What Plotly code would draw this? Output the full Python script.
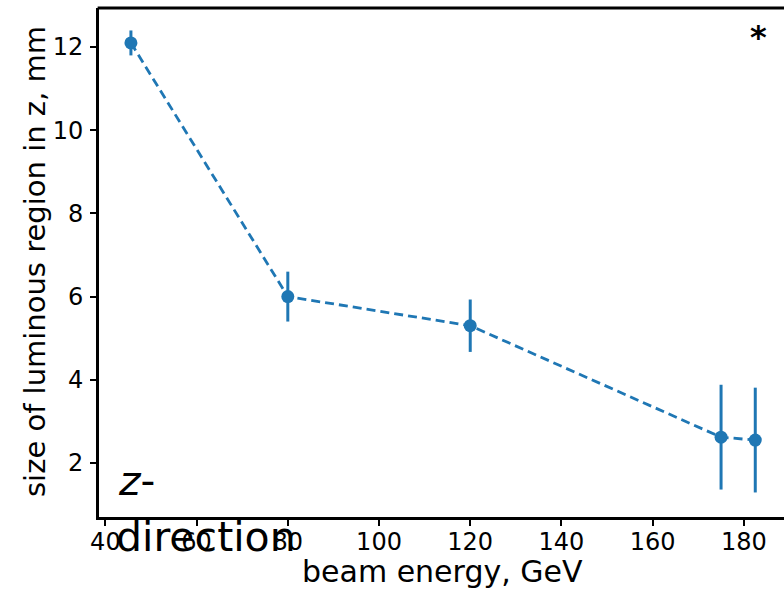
import plotly.graph_objects as go

energy = [45.6, 80, 120, 175, 182.5]
size_z = [12.1, 6.0, 5.3, 2.62, 2.55]
err_z = [0.3, 0.6, 0.63, 1.26, 1.26]
x_ticks = [40, 60, 80, 100, 120, 140, 160, 180]
y_ticks = [2, 4, 6, 8, 10, 12]

W, H = 784, 591
L, R, T, B = 99, 0, 8, 74
pw, ph = W - L - R, H - T - B

def px(x):
    return (x - L) / pw

def py(y):
    return (H - B - y) / ph

blue = "#1f77b4"
font = "DejaVu Sans"

fig = go.Figure()
fig.add_trace(go.Scatter(
    x=energy, y=size_z, mode="lines+markers",
    line=dict(color=blue, width=2.8, dash="9px,5px"),
    marker=dict(color=blue, size=13),
    error_y=dict(type="data", array=err_z, color=blue, thickness=3, width=0),
    showlegend=False,
))

tick_minor = dict(ticks="outside", ticklen=6, tickwidth=1.5, tickcolor="black", showgrid=False)

fig.update_layout(
    width=W, height=H, autosize=False,
    margin=dict(l=L, r=R, t=T, b=B, pad=0),
    paper_bgcolor="white", plot_bgcolor="white",
    font=dict(family=font, color="black"),
    xaxis=dict(range=[38.6, 188.8], tickvals=x_ticks, ticks="", ticklabelstandoff=1,
               minor=dict(tickvals=x_ticks, **tick_minor),
               showline=True, linewidth=2.8,
               linecolor="black", mirror=False, showgrid=False, zeroline=False,
               tickfont=dict(size=24, family=font)),
    yaxis=dict(range=[0.70, 12.94], tickvals=y_ticks, ticks="", ticklabelstandoff=8,
               minor=dict(tickvals=y_ticks, **tick_minor),
               showline=True, linewidth=2.8,
               linecolor="black", showgrid=False, zeroline=False,
               tickfont=dict(size=24, family=font)),
    shapes=[dict(type="line", xref="paper", yref="paper", x0=-0.002, x1=1.01, y0=1, y1=1,
                 line=dict(color="black", width=2.8))],
)

fig.add_annotation(text="size of luminous region in z, mm", xref="paper", yref="paper",
                   x=px(35), y=py(262), textangle=-90, showarrow=False,
                   xanchor="center", yanchor="middle", font=dict(size=29, family=font))
fig.add_annotation(text="beam energy, GeV", xref="paper", yref="paper",
                   x=px(442), y=py(571), showarrow=False,
                   xanchor="center", yanchor="middle", font=dict(size=30, family=font))
fig.add_annotation(text="<b>*</b>", xref="paper", yref="paper",
                   x=px(758), y=py(37), showarrow=False,
                   xanchor="center", yanchor="middle", font=dict(size=32, family=font))
fig.add_annotation(text="<i>z</i>-", xref="paper", yref="paper",
                   x=px(116), y=py(481), showarrow=False,
                   xanchor="left", yanchor="middle", font=dict(size=41, family=font))
fig.add_annotation(text="direction", xref="paper", yref="paper",
                   x=px(114), y=py(537), showarrow=False,
                   xanchor="left", yanchor="middle", font=dict(size=41, family=font))

fig.write_html("out.html")
